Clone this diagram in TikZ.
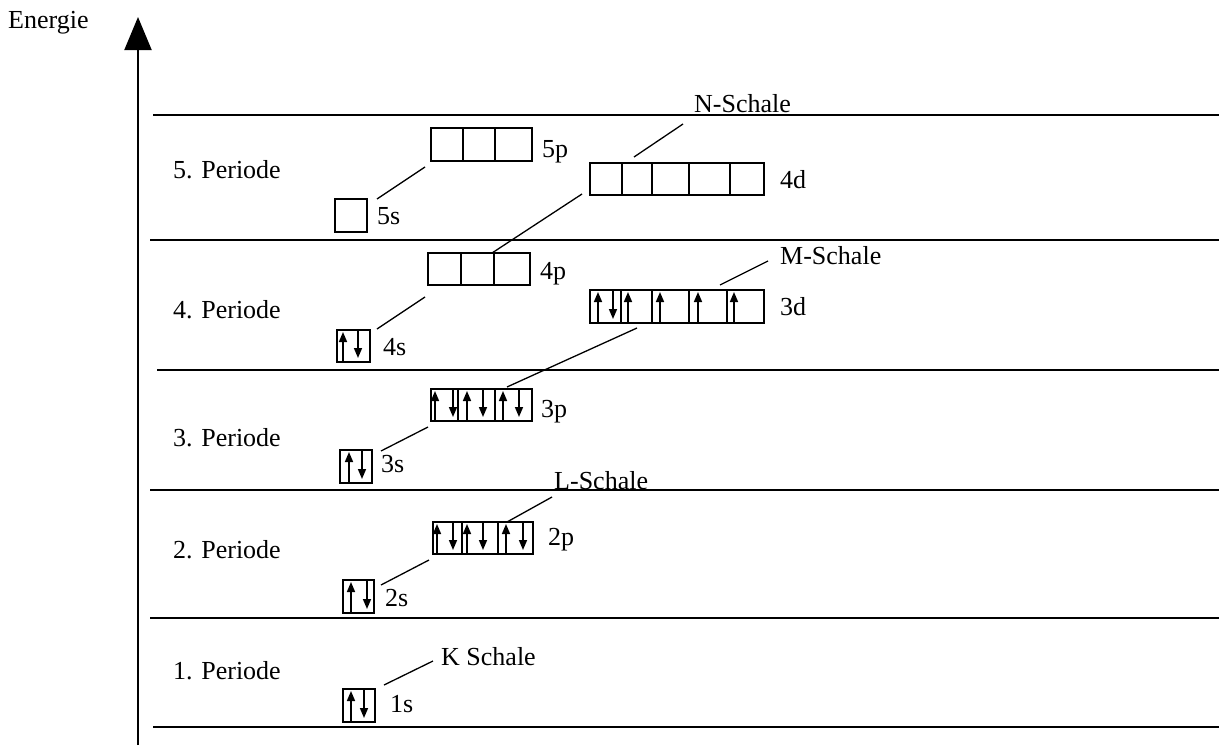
\documentclass[tikz,border=0pt]{standalone}
\usepackage{fontspec}
\setmainfont{Liberation Serif}
\usetikzlibrary{arrows.meta}
\begin{document}
\begin{tikzpicture}[x=1pt,y=-1pt,
  lvl/.style={line width=2pt},
  orb/.style={draw, line width=2pt, inner sep=0pt, anchor=north west},
  divl/.style={line width=2pt},
  conn/.style={line width=1.3pt},
  lab/.style={font=\fontsize{26}{30}\selectfont, inner sep=0pt, anchor=base west},
  spin/.style={line width=1.6pt, -{Triangle[length=10pt,width=8pt]}},
  axis/.style={line width=2pt, -{Triangle[length=33pt,width=27pt]}}]
\useasboundingbox (0,0) rectangle (1224,745);
% axis
\coordinate (axb) at (138,745);
\coordinate (axt) at (138,17);
\draw[axis] (axb) -- (axt);
\node[lab] (energie) at (8,28) {Energie};
% level lines
\coordinate (l1a) at (153,115); \coordinate (l1b) at (1219,115);
\coordinate (l2a) at (150,240); \coordinate (l2b) at (1219,240);
\coordinate (l3a) at (157,370); \coordinate (l3b) at (1219,370);
\coordinate (l4a) at (150,490); \coordinate (l4b) at (1219,490);
\coordinate (l5a) at (150,618); \coordinate (l5b) at (1219,618);
\coordinate (l6a) at (153,727); \coordinate (l6b) at (1219,727);
\draw[lvl] (l1a) -- (l1b);
\draw[lvl] (l2a) -- (l2b);
\draw[lvl] (l3a) -- (l3b);
\draw[lvl] (l4a) -- (l4b);
\draw[lvl] (l5a) -- (l5b);
\draw[lvl] (l6a) -- (l6b);
% period labels
\node[lab] (per5) at (173,178) {5. Periode};
\node[lab] (per4) at (173,318) {4. Periode};
\node[lab] (per3) at (173,446) {3. Periode};
\node[lab] (per2) at (173,558) {2. Periode};
\node[lab] (per1) at (173,679) {1. Periode};
% ---- 5th period
\node[orb, minimum width=32pt, minimum height=33pt] (s5) at (334,198) {};
\node[orb, minimum width=101pt, minimum height=33pt] (p5) at (430,127) {};
\draw[divl] (463,127) -- (463,160);
\draw[divl] (495,127) -- (495,160);
\node[orb, minimum width=174pt, minimum height=32pt] (d4) at (589,162) {};
\draw[divl] (622,162) -- (622,194);
\draw[divl] (652,162) -- (652,194);
\draw[divl] (689,162) -- (689,194);
\draw[divl] (730,162) -- (730,194);
\node[lab] (t5s) at (377,224) {5s};
\node[lab] (t5p) at (542,157) {5p};
\node[lab] (t4d) at (780,188) {4d};
\node[lab] (tN) at (694,112) {N-Schale};
\coordinate (c5a) at (377,199); \coordinate (c5b) at (425,167);
\draw[conn] (c5a) -- (c5b);
\coordinate (cNa) at (634,157); \coordinate (cNb) at (683,124);
\draw[conn] (cNa) -- (cNb);
\coordinate (c4da) at (582,194); \coordinate (c4db) at (492,253);
\draw[conn] (c4da) -- (c4db);
% ---- 4th period
\node[orb, minimum width=33pt, minimum height=32pt] (s4) at (336,329) {};
\draw[spin] (343,361) -- (343,332);
\draw[spin] (358,329) -- (358,358);
\node[orb, minimum width=102pt, minimum height=32pt] (p4) at (427,252) {};
\draw[divl] (461,252) -- (461,284);
\draw[divl] (494,252) -- (494,284);
\node[orb, minimum width=174pt, minimum height=33pt] (d3) at (589,289) {};
\draw[divl] (621,289) -- (621,322);
\draw[divl] (652,289) -- (652,322);
\draw[divl] (689,289) -- (689,322);
\draw[divl] (727,289) -- (727,322);
\draw[spin] (598,322) -- (598,292);
\draw[spin] (613,289) -- (613,319);
\draw[spin] (628,322) -- (628,292);
\draw[spin] (660,322) -- (660,292);
\draw[spin] (698,322) -- (698,292);
\draw[spin] (734,322) -- (734,292);
\node[lab] (t4s) at (383,355) {4s};
\node[lab] (t4p) at (540,279) {4p};
\node[lab] (t3d) at (780,315) {3d};
\node[lab] (tM) at (780,264) {M-Schale};
\coordinate (c4a) at (377,329); \coordinate (c4b) at (425,297);
\draw[conn] (c4a) -- (c4b);
\coordinate (cMa) at (720,285); \coordinate (cMb) at (768,261);
\draw[conn] (cMa) -- (cMb);
\coordinate (c3da) at (637,328); \coordinate (c3db) at (507,387);
\draw[conn] (c3da) -- (c3db);
% ---- 3rd period
\node[orb, minimum width=32pt, minimum height=33pt] (s3) at (339,449) {};
\draw[spin] (349,482) -- (349,452);
\draw[spin] (362,449) -- (362,479);
\node[orb, minimum width=101pt, minimum height=32pt] (p3) at (430,388) {};
\draw[divl] (458,388) -- (458,420);
\draw[divl] (495,388) -- (495,420);
\draw[spin] (435,420) -- (435,391);
\draw[spin] (453,388) -- (453,417);
\draw[spin] (467,420) -- (467,391);
\draw[spin] (483,388) -- (483,417);
\draw[spin] (503,420) -- (503,391);
\draw[spin] (519,388) -- (519,417);
\node[lab] (t3s) at (381,472) {3s};
\node[lab] (t3p) at (541,417) {3p};
\coordinate (c3a) at (381,451); \coordinate (c3b) at (428,427);
\draw[conn] (c3a) -- (c3b);
% ---- 2nd period
\node[orb, minimum width=31pt, minimum height=33pt] (s2) at (342,579) {};
\draw[spin] (351,612) -- (351,582);
\draw[spin] (367,579) -- (367,609);
\node[orb, minimum width=100pt, minimum height=32pt] (p2) at (432,521) {};
\draw[divl] (462,521) -- (462,553);
\draw[divl] (498,521) -- (498,553);
\draw[spin] (437,553) -- (437,524);
\draw[spin] (453,521) -- (453,550);
\draw[spin] (467,553) -- (467,524);
\draw[spin] (483,521) -- (483,550);
\draw[spin] (506,553) -- (506,524);
\draw[spin] (523,521) -- (523,550);
\node[lab] (t2s) at (385,606) {2s};
\node[lab] (t2p) at (548,545) {2p};
\node[lab] (tL) at (554,489) {L-Schale};
\coordinate (c2a) at (381,585); \coordinate (c2b) at (429,560);
\draw[conn] (c2a) -- (c2b);
\coordinate (cLa) at (507,522); \coordinate (cLb) at (552,497);
\draw[conn] (cLa) -- (cLb);
% ---- 1st period
\node[orb, minimum width=32pt, minimum height=33pt] (s1) at (342,688) {};
\draw[spin] (351,721) -- (351,691);
\draw[spin] (364,688) -- (364,718);
\node[lab] (t1s) at (390,712) {1s};
\node[lab] (tK) at (441,665) {K Schale};
\coordinate (cKa) at (384,685); \coordinate (cKb) at (433,661);
\draw[conn] (cKa) -- (cKb);
\end{tikzpicture}
\end{document}
